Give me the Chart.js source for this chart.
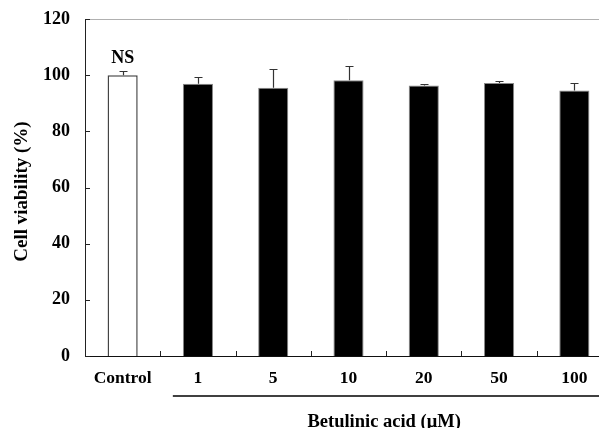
<!DOCTYPE html>
<html><head><meta charset="utf-8">
<script src="https://cdn.jsdelivr.net/npm/chart.js@4"></script>
<style>
html,body{margin:0;padding:0;background:#fff;overflow:hidden;width:599px;height:428px}
#wrap{width:612px;height:428px}
canvas{display:block}
</style></head><body>
<div id="wrap"><canvas id="c" width="612" height="428"></canvas></div>
<script>
const categories = ['Control', '1', '5', '10', '20', '50', '100'];
const viability = [100, 96.9, 95.5, 98.2, 96.3, 97.2, 94.5];
const errors = [1.5, 2.3, 6.6, 5.1, 0.6, 0.9, 2.6];
const yTicks = [0, 20, 40, 60, 80, 100, 120];
const yTitle = 'Cell viability (%)';
const groupLabel = 'Betulinic acid (μM)';
const sigLabel = 'NS';

const FONT = '"Liberation Serif", "Times New Roman", serif';

const deco = {
  id: 'deco',
  afterDatasetsDraw(chart) {
    const {ctx, chartArea: a, scales: {x, y}} = chart;
    ctx.save();
    // top frame line
    ctx.strokeStyle = '#b0b0b0'; ctx.lineWidth = 1;
    ctx.beginPath(); ctx.moveTo(a.left, a.top + 0.5); ctx.lineTo(a.right, a.top + 0.5); ctx.stroke();
    // inner y ticks
    ctx.strokeStyle = '#222';
    yTicks.forEach(v => {
      const py = Math.round(y.getPixelForValue(v)) + 0.5;
      ctx.beginPath(); ctx.moveTo(a.left, py); ctx.lineTo(a.left + 5, py); ctx.stroke();
    });
    // category boundary ticks
    const cw = x.getPixelForValue(1) - x.getPixelForValue(0);
    for (let i = 0; i < categories.length - 1; i++) {
      const px = Math.round(x.getPixelForValue(i) + cw / 2) + 0.5;
      ctx.beginPath(); ctx.moveTo(px, a.bottom); ctx.lineTo(px, a.bottom - 5); ctx.stroke();
    }
    // error bars (upper only)
    ctx.strokeStyle = '#333'; ctx.lineWidth = 1.2;
    viability.forEach((v, i) => {
      const px = Math.round(x.getPixelForValue(i)) + 0.5;
      const y0 = y.getPixelForValue(v);
      const y1 = Math.round(y.getPixelForValue(v + errors[i])) + 0.5;
      ctx.beginPath();
      ctx.moveTo(px, y0); ctx.lineTo(px, y1);
      ctx.moveTo(px - 4, y1); ctx.lineTo(px + 4, y1);
      ctx.stroke();
    });
    // NS label over control
    ctx.fillStyle = '#000';
    ctx.font = 'bold 18px ' + FONT;
    ctx.textAlign = 'center'; ctx.textBaseline = 'middle';
    ctx.fillText(sigLabel, x.getPixelForValue(0), y.getPixelForValue(viability[0] + errors[0]) - 13);
    // group line and label
    const lx0 = x.getPixelForValue(1) - cw / 3;
    const lx1 = x.getPixelForValue(categories.length - 1) + cw / 2;
    const ly = a.bottom + 40;
    ctx.strokeStyle = '#000'; ctx.lineWidth = 1.5;
    ctx.beginPath(); ctx.moveTo(lx0, ly); ctx.lineTo(lx1, ly); ctx.stroke();
    ctx.font = 'bold 18.5px ' + FONT;
    ctx.fillText(groupLabel, (x.getPixelForValue(1) + x.getPixelForValue(categories.length - 1)) / 2 - 2, ly + 26);
    // y axis title
    ctx.save();
    ctx.translate(22, (a.top + a.bottom) / 2 + 4);
    ctx.rotate(-Math.PI / 2);
    ctx.font = 'bold 19px ' + FONT;
    ctx.fillText(yTitle, 0, 0);
    ctx.restore();
    ctx.restore();
  }
};

new Chart(document.getElementById('c'), {
  type: 'bar',
  data: {
    labels: categories,
    datasets: [{
      data: viability,
      backgroundColor: viability.map((v, i) => i === 0 ? '#ffffff' : '#000000'),
      borderColor: viability.map((v, i) => i === 0 ? '#444444' : '#888888'),
      borderWidth: viability.map((v, i) => i === 0 ? 1.5 : 1),
      categoryPercentage: 1,
      barPercentage: 0.4
    }]
  },
  options: {
    responsive: false,
    animation: false,
    devicePixelRatio: 1,
    layout: {padding: {top: 19, right: 0, bottom: 0, left: 0}},
    plugins: {legend: {display: false}, tooltip: {enabled: false}},
    scales: {
      x: {
        grid: {display: false, drawTicks: false},
        border: {display: true, color: '#111', width: 1},
        ticks: {color: '#000', font: {family: FONT, size: 17.5, weight: 'bold'}, padding: 12, maxRotation: 0},
        afterFit(s) { s.height = 72; s.paddingLeft = 0; s.paddingRight = 0; }
      },
      y: {
        min: 0, max: 120,
        grid: {display: false, drawTicks: false},
        border: {display: true, color: '#222', width: 1},
        ticks: {stepSize: 20, color: '#000', font: {family: FONT, size: 18, weight: 'bold'}, padding: 15},
        title: {display: false},
        afterFit(s) { s.width = 85; s.paddingTop = 0; s.paddingBottom = 0; }
      }
    }
  },
  plugins: [deco]
});
</script>
</body></html>
